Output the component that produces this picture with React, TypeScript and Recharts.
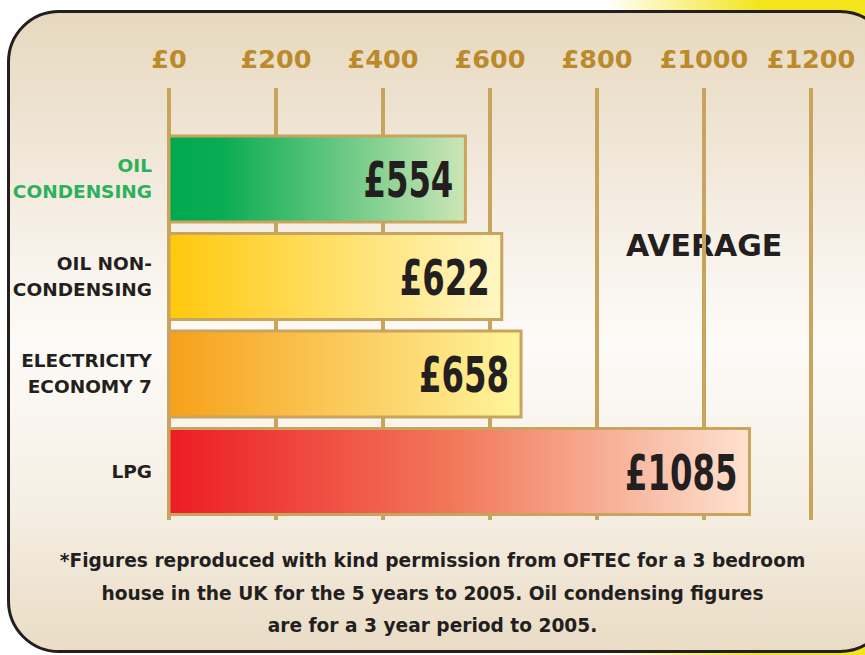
import { BarChart, Bar, XAxis, YAxis, CartesianGrid, Cell, LabelList } from "recharts";

const fuels = ["OIL\nCONDENSING", "OIL NON-\nCONDENSING", "ELECTRICITY\nECONOMY 7", "LPG"];
const costs = [554, 622, 658, 1085];
const costTicks = [0, 200, 400, 600, 800, 1000, 1200];
const footnote = [
  "*Figures reproduced with kind permission from OFTEC for a 3 bedroom",
  "house in the UK for the 5 years to 2005. Oil condensing figures",
  "are for a 3 year period to 2005.",
];

const GOLD = "#c9a45c";
const GRADS = [
  [["0", "#00a94f"], ["0.18", "#0aac53"], ["1", "#cde6b6"]],
  [["0", "#ffc80c"], ["1", "#fff6c4"]],
  [["0", "#f7a01a"], ["1", "#fff59c"]],
  [["0", "#ed1c24"], ["0.5", "#f27a5c"], ["1", "#fde2cf"]],
];

const data = fuels.map((name, i) => ({ name, cost: costs[i] }));

const BOLD = "'DejaVu Sans', sans-serif";

function CostTick({ x, y, payload }: any) {
  return (
    <text x={x} y={y} textAnchor="middle" fill="#bb8a2b" fontFamily={BOLD} fontWeight="bold" fontSize={25.5}>
      £{payload.value}
    </text>
  );
}

function FuelTick({ x, y, payload }: any) {
  const lines = String(payload.value).split("\n");
  const first = payload.value === fuels[0];
  const start = y - ((lines.length - 1) * 26) / 2;
  return (
    <text x={x} y={start} textAnchor="end" fill={first ? "#2bb15a" : "#231f20"} fontFamily={BOLD} fontWeight="bold" fontSize={18.5}>
      {lines.map((l, i) => (
        <tspan key={i} x={x} y={start + i * 26} dy="0.36em">
          {l}
        </tspan>
      ))}
    </text>
  );
}

function CostLabel({ x, y, width, height, value }: any) {
  const s = "£" + value;
  return (
    <text
      x={x + width - 12}
      y={y + height / 2}
      dy="0.36em"
      textAnchor="end"
      fill="#231f20"
      fontFamily={BOLD}
      fontWeight="bold"
      fontSize={50}
      textLength={s.length * 22.5}
      lengthAdjust="spacingAndGlyphs"
    >
      {s}
    </text>
  );
}

export default function App() {
  return (
    <div
      style={{
        position: "absolute",
        left: 0,
        top: 0,
        width: 865,
        height: 655,
        overflow: "hidden",
        background: "linear-gradient(90deg, #ffffff 70%, #f3e41c 88%)",
      }}
    >
      <div
        style={{
          position: "absolute",
          left: 7,
          top: 10,
          width: 885,
          height: 643,
          boxSizing: "border-box",
          border: "3px solid #231f20",
          borderRadius: 52,
          background:
            "linear-gradient(180deg, #e7d9bf 0%, #f2e9dc 25%, #fdfbf8 52%, #f5eee3 78%, #eadcc5 100%)",
        }}
      />
      <div
        style={{
          position: "absolute",
          left: 626,
          top: 228,
          fontFamily: BOLD,
          fontWeight: "bold",
          fontSize: 30,
          color: "#231f20",
        }}
      >
        AVERAGE
      </div>
      <div style={{ position: "absolute", left: 0, top: 0 }}>
        <BarChart
          width={865}
          height={655}
          data={data}
          layout="vertical"
          margin={{ top: 0, right: 54, bottom: 135, left: 9 }}
        >
          <defs>
            {GRADS.map((g, i) => (
              <linearGradient key={i} id={`fuel${i}`} x1="0" y1="0" x2="1" y2="0">
                {g.map(([o, c]) => (
                  <stop key={o} offset={o} stopColor={c} />
                ))}
              </linearGradient>
            ))}
          </defs>
          <CartesianGrid horizontal={false} stroke={GOLD} strokeWidth={4} />
          <XAxis
            type="number"
            orientation="top"
            domain={[0, 1200]}
            ticks={costTicks}
            height={88}
            axisLine={false}
            tickLine={false}
            tickSize={0}
            tickMargin={20}
            tick={<CostTick />}
          />
          <YAxis
            type="category"
            dataKey="name"
            width={160}
            padding={{ top: 42, bottom: 0 }}
            axisLine={false}
            tickLine={false}
            tickSize={0}
            tickMargin={17}
            tick={<FuelTick />}
            interval={0}
          />
          <Bar dataKey="cost" barSize={86} stroke={GOLD} strokeWidth={3} isAnimationActive={false}>
            {data.map((d, i) => (
              <Cell key={d.name} fill={`url(#fuel${i})`} />
            ))}
            <LabelList dataKey="cost" content={<CostLabel />} />
          </Bar>
        </BarChart>
      </div>
      <div
        style={{
          position: "absolute",
          left: 0,
          top: 545,
          width: 865,
          textAlign: "center",
          fontFamily: BOLD,
          fontWeight: "bold",
          fontSize: 18.6,
          lineHeight: "32.5px",
          color: "#231f20",
        }}
      >
        {footnote.map((l) => (
          <div key={l}>{l}</div>
        ))}
      </div>
    </div>
  );
}
